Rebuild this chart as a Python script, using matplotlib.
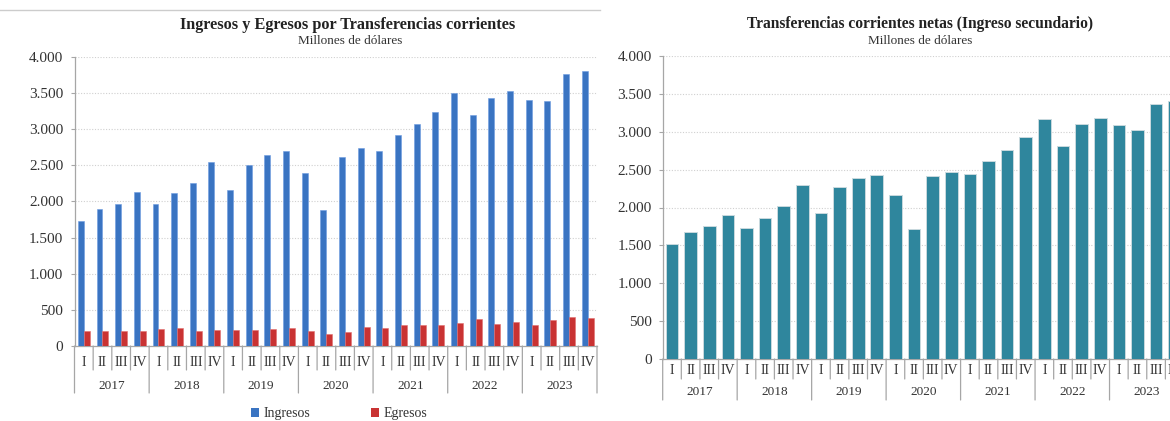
import matplotlib
matplotlib.use("Agg")
import matplotlib.pyplot as plt
import matplotlib.transforms as mtransforms
from matplotlib.lines import Line2D
from matplotlib.patches import Patch
import numpy as np

years = ["2017", "2018", "2019", "2020", "2021", "2022", "2023"]
quarters = ["I", "II", "III", "IV"]
ingresos = [1735, 1895, 1965, 2125, 1970, 2110, 2250, 2540,
            2155, 2505, 2640, 2690, 2390, 1875, 2610, 2740,
            2695, 2915, 3065, 3235, 3500, 3195, 3425, 3530,
            3400, 3390, 3760, 3800]
egresos = [212, 212, 212, 212, 230, 250, 212, 225,
           225, 225, 240, 252, 214, 160, 193, 262,
           244, 295, 295, 295, 318, 369, 309, 332,
           295, 355, 397, 392]
netas = [1520, 1670, 1750, 1905, 1732, 1863, 2022, 2300,
         1925, 2277, 2395, 2427, 2163, 1714, 2413, 2470,
         2440, 2619, 2756, 2928, 3165, 2817, 3099, 3182,
         3086, 3024, 3363, 3402]
yticks = [0, 500, 1000, 1500, 2000, 2500, 3000, 3500, 4000]

FONT = "Liberation Serif"
plt.rcParams["font.family"] = [FONT, "DejaVu Serif"]
TXT = "#333333"
GRID = "#d0d0d0"
SPINE = "#a6a6a6"

W, H = 1170, 421
fig = plt.figure(figsize=(W / 100, H / 100), dpi=100)


def px_axes(x0, x1, ytop, ybot):
    return fig.add_axes([x0 / W, (H - ybot) / H, (x1 - x0) / W, (ybot - ytop) / H])


def fmt(v):
    return f"{v:,}".replace(",", ".")


def style_axes(ax, qlab_off, qsep_len, ylab_off, ysep_len):
    n = len(years) * len(quarters)
    ax.set_xlim(-0.5, n - 0.5)
    ax.set_ylim(0, 4000)
    ax.set_yticks(yticks)
    ax.set_yticklabels([fmt(v) for v in yticks], fontsize=11, color=TXT)
    ax.tick_params(axis="y", length=3, color=SPINE, width=0.8, pad=5)
    ax.set_xticks([])
    for s in ["top", "right"]:
        ax.spines[s].set_visible(False)
    for s in ["left", "bottom"]:
        ax.spines[s].set_color(SPINE)
        ax.spines[s].set_linewidth(0.9)
    ax.grid(axis="y", color=GRID, linestyle=(0, (1, 1.5)), linewidth=0.8)
    ax.set_axisbelow(True)
    base = mtransforms.blended_transform_factory(ax.transData, ax.transAxes)

    def off(dy_px):
        return base + mtransforms.ScaledTranslation(0, -dy_px / 100, fig.dpi_scale_trans)

    for i in range(n):
        ax.text(i, 0, quarters[i % 4], transform=off(qlab_off), ha="center",
                va="center", fontsize=10, color=TXT, clip_on=False)
    for i in range(n + 1):
        xs = i - 0.5
        length = ysep_len if i % 4 == 0 else qsep_len
        ax.annotate("", xy=(xs, 0), xycoords=off(length), xytext=(xs, 0),
                    textcoords=base,
                    arrowprops=dict(arrowstyle="-", color=SPINE, lw=0.9,
                                    shrinkA=0, shrinkB=0),
                    annotation_clip=False)
    for j, y in enumerate(years):
        ax.text(j * 4 + 1.5, 0, y, transform=off(ylab_off), ha="center",
                va="center", fontsize=9.5, color=TXT, clip_on=False)


# ---------- Left chart ----------
ax1 = px_axes(74.5, 597, 56.7, 346)
x = np.arange(len(ingresos))
bw = 0.32
ax1.bar(x - bw / 2, ingresos, width=bw, color="#3a74c2", edgecolor="#6d9be0",
        linewidth=0.4, zorder=3)
ax1.bar(x + bw / 2, egresos, width=bw, color="#c93333", edgecolor="#e27070",
        linewidth=0.4, zorder=3)
style_axes(ax1, qlab_off=16, qsep_len=24, ylab_off=40, ysep_len=47)

fig.text(348 / W, 1 - 25 / H, "Ingresos y Egresos por Transferencias corrientes",
         ha="center", va="center", fontsize=11.7, fontweight="bold", color="#222222")
fig.text(350 / W, 1 - 41 / H, "Millones de dólares", ha="center", va="center",
         fontsize=9.5, color=TXT)

handles = [Patch(facecolor="#3a74c2", edgecolor="none"),
           Patch(facecolor="#c93333", edgecolor="none")]
fig.legend(handles, ["Ingresos", "Egresos"], loc="center",
           bbox_to_anchor=(339 / W, 1 - 414 / H), ncol=2, frameon=False,
           fontsize=10, handlelength=0.6, handleheight=0.6, handletextpad=0.3,
           columnspacing=4.4, labelcolor=TXT)

# top gray rule over left chart
fig.add_artist(Line2D([0, 600 / W], [1 - 10 / H, 1 - 10 / H], color="#cccccc",
                      lw=1.0, transform=fig.transFigure))

# ---------- Right chart ----------
ax2 = px_axes(662.7, 1184, 56, 359)
ax2.bar(x, netas, width=0.68, color="#2f869d", edgecolor="#c9d9de",
        linewidth=0.7, zorder=3)
style_axes(ax2, qlab_off=12, qsep_len=20, ylab_off=33, ysep_len=41)

fig.text(920 / W, 1 - 24 / H, "Transferencias corrientes netas (Ingreso secundario)",
         ha="center", va="center", fontsize=11.2, fontweight="bold", color="#222222")
fig.text(920 / W, 1 - 41 / H, "Millones de dólares", ha="center", va="center",
         fontsize=9.5, color=TXT)

fig.savefig("out.png", dpi=100)
